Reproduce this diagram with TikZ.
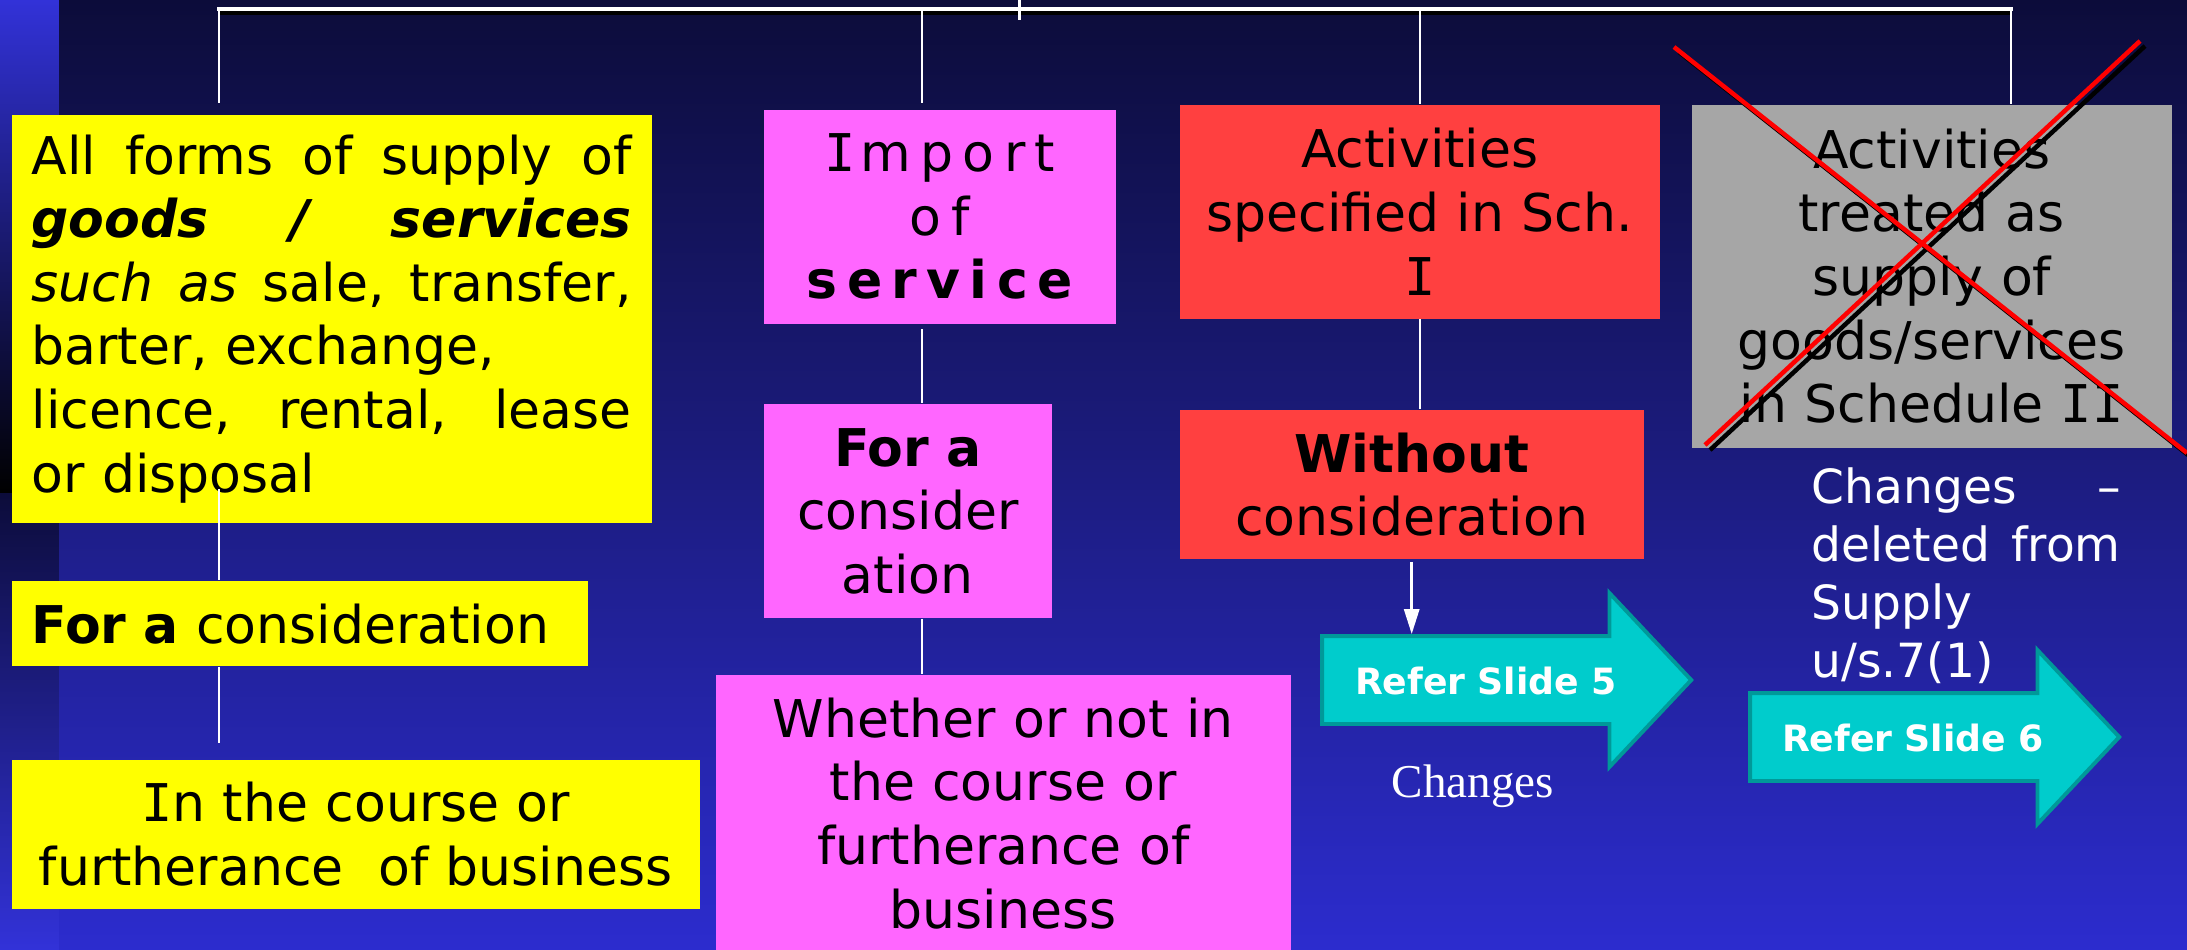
\documentclass[tikz,border=0pt]{standalone}
\usepackage{fontspec}
\setmainfont{DejaVu Sans}
\newfontfamily\spacedfont[LetterSpace=18]{DejaVu Sans}
\newfontfamily\slabfont{DejaVu Sans Mono}
\newfontfamily\romanfont{Liberation Serif}
\usetikzlibrary{positioning, shapes.arrows, arrows.meta}

\definecolor{bgtop}{RGB}{12,12,58}
\definecolor{bgmid}{RGB}{28,28,128}
\definecolor{bgbot}{RGB}{44,44,206}
\definecolor{stripbright}{RGB}{50,50,216}
\definecolor{slideyellow}{RGB}{255,255,0}
\definecolor{slidepink}{RGB}{255,102,255}
\definecolor{slidered}{RGB}{255,64,64}
\definecolor{slidegray}{RGB}{166,166,166}
\definecolor{slidecyan}{RGB}{0,204,204}
\definecolor{slideedge}{RGB}{0,153,153}

\begin{document}
\begin{tikzpicture}[box/.style={rectangle, anchor=north west, inner xsep=0.2cm, inner ysep=0pt, text=black, font=\fontsize{14.8}{18.1}\selectfont},
    link/.style={draw=white, line width=0.6pt},
    refer/.style={single arrow, fill=slidecyan, draw=slideedge, line width=1.1pt, single arrow head extend=0.43cm, single arrow tip angle=93.5, inner xsep=0pt, inner ysep=0.23cm, text height=0.33cm, text depth=0.05cm, text width=3.24cm, align=left, text=white, font=\fontsize{10.3}{12}\selectfont\bfseries},
    cross/.style={line width=0.045cm}]

    % Background of the slide
    \useasboundingbox (0,0) rectangle (21.87,-9.49);
    \shade[top color=bgtop, bottom color=bgbot, middle color=bgmid] (0,0) rectangle (21.87,-9.49);
    \shade[top color=stripbright, bottom color=black] (0,0) rectangle (0.59,-4.93);
    \shade[top color=bgtop, bottom color=stripbright] (0,-4.93) rectangle (0.59,-9.49);

    % Define the boxes (nodes)
    \node[box, fill=slideyellow, text width=6.0cm, minimum height=4.08cm, align=left] (allforms) at (0.11,-1.14) {
                    \makebox[6cm]{All\hfill forms\hfill of\hfill supply\hfill of}\\
                    \makebox[6cm]{\textbf{\textit{goods\hfill/\hfill services}}}\\
                    \makebox[6cm]{\textit{such\hfill as}\hfill sale,\hfill transfer,}\\
                    barter, exchange,\\
                    \makebox[6cm]{licence,\hfill rental,\hfill lease}\\
                    or disposal};
    \node[box, fill=slideyellow, text width=5.36cm, minimum height=0.85cm, align=left, below=0.57cm of allforms.south west, anchor=north west] (forcons) {\textbf{For a} consideration};
    \node[box, fill=slideyellow, text width=6.48cm, minimum height=1.49cm, align=center, below=0.92cm of forcons.south west, anchor=north west] (course) {{\slabfont I}n the course or\\furtherance\ \ of business};

    \node[box, fill=slidepink, text width=3.12cm, minimum height=2.14cm, align=center] (import) at (7.63,-1.09) {{\slabfont I}\kern1.5pt{\spacedfont mport}\\{\spacedfont of}\\{\spacedfont\bfseries service}};
    \node[box, fill=slidepink, text width=2.48cm, minimum height=2.14cm, align=center, below=0.79cm of import.south west, anchor=north west] (forconsid) {\textbf{For a}\\consider\\ation};
    \node[box, fill=slidepink, text width=5.35cm, minimum height=2.77cm, align=center] (whether) at (7.15,-6.74) {Whether or not in\\the course or\\furtherance of\\business};

    \node[box, fill=slidered, text width=4.4cm, minimum height=2.14cm, align=center] (schone) at (11.79,-1.04) {Activities\\specified in Sch.\\{\slabfont I}};
    \node[box, fill=slidered, text width=4.24cm, minimum height=1.49cm, align=center, below=0.90cm of schone.south west, anchor=north west] (without) {\textbf{Without}\\consideration};

    \node[box, fill=slidegray, text width=4.4cm, minimum height=3.43cm, align=center] (schtwo) at (16.91,-1.04) {Activities\\treated as\\supply of\\goods/services\\in Schedule {\slabfont II}};

    % Arrows pointing to the other slides
    \node[refer] (slidefive) at (14.86,-6.80) {\hspace*{0.31cm}\mbox{Refer Slide 5}};
    \node[refer] (slidesix) at (19.14,-7.37) {\hspace*{0.30cm}\mbox{Refer Slide 6}};

    \node[text=white, anchor=base, inner sep=0pt, font=\romanfont\fontsize{13.4}{16}\selectfont] (changes) at (14.73,-7.97) {Changes};
    \node[text=white, anchor=north west, inner sep=0pt, text width=3.09cm, align=left, font=\fontsize{13.4}{16.5}\selectfont] (deleted) at (18.11,-4.67) {
                    \makebox[3.09cm]{Changes\hfill --}\\
                    \makebox[3.09cm]{deleted\hfill from}\\
                    Supply\\
                    u/s.7(1)};

    % Tree bar on top with its drops
    \coordinate (root) at (10.19,0);
    \coordinate (d1) at (2.19,-0.09);
    \coordinate (d2) at (9.22,-0.09);
    \coordinate (d3) at (14.20,-0.09);
    \coordinate (d4) at (20.11,-0.09);
    \draw[black, line width=0.04cm] ([yshift=-0.04cm]d1) -- ([yshift=-0.04cm]d4); % shadow
    \draw[white, line width=0.04cm, line cap=rect] (d1) -- (d4);
    \draw[white, line width=0.03cm] (root) -- ++(0,-0.2);

    % Define the connectors
    \draw[link, shorten >=0.11cm] (d1) -- (d1 |- allforms.north);
    \draw[link, shorten >=0.06cm] (d2) -- (d2 |- import.north);
    \draw[link] (d3) -- (d3 |- schone.north);
    \draw[link] (d4) -- (d4 |- schtwo.north);
    \draw[link, shorten <=-0.34cm] (d1 |- allforms.south) -- (d1 |- forcons.north);
    \draw[link, shorten >=0.16cm] (d1 |- forcons.south) -- (d1 |- course.north);
    \draw[link, shorten <=0.05cm] (d2 |- import.south) -- (d2 |- forconsid.north);
    \draw[link] (d2 |- forconsid.south) -- (d2 |- whether.north);
    \draw[link] (d3 |- schone.south) -- (d3 |- without.north);
    \draw[link, line width=0.03cm, -{Triangle[length=0.25cm, width=0.15cm]}, shorten <=0.02cm] (without.south) -- (without.south |- slidefive.north);

    % Crossing out of Schedule II
    \coordinate (xa1) at (16.74,-0.47);
    \coordinate (xa2) at (21.87,-4.53);
    \coordinate (xb1) at (17.05,-4.45);
    \coordinate (xb2) at (21.40,-0.41);
    \draw[cross, black] ([shift={(0.05,-0.05)}]xa1) -- ([shift={(0.05,-0.05)}]xa2);
    \draw[cross, black] ([shift={(0.05,-0.05)}]xb1) -- ([shift={(0.05,-0.05)}]xb2);
    \draw[cross, red] (xa1) -- (xa2);
    \draw[cross, red] (xb1) -- (xb2);
\end{tikzpicture}
\end{document}
